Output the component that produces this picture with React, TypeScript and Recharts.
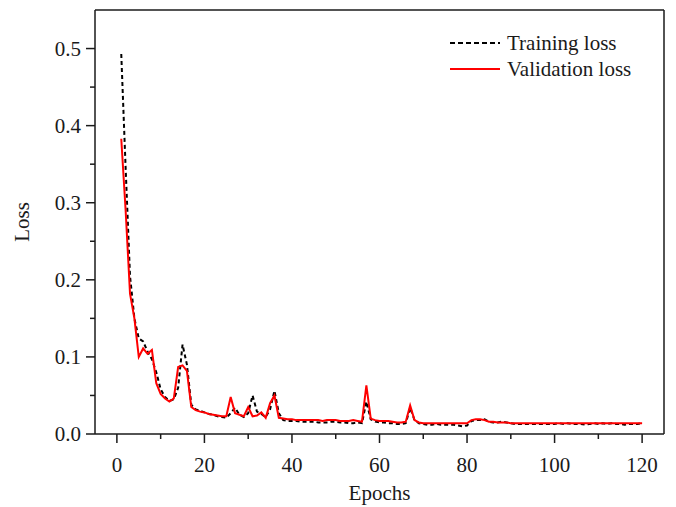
import React from "react";
import { LineChart, Line, XAxis, YAxis } from "recharts";

const epochs: number[] = Array.from({ length: 120 }, (_, i) => i + 1);

const trainingLoss: number[] = [
  0.493, 0.345, 0.205, 0.15, 0.124, 0.12, 0.107, 0.097, 0.08, 0.058,
  0.048, 0.043, 0.045, 0.06, 0.116, 0.09, 0.038, 0.032, 0.03, 0.028,
  0.026, 0.025, 0.023, 0.022, 0.021, 0.027, 0.034, 0.025, 0.022, 0.027,
  0.05, 0.029, 0.026, 0.022, 0.032, 0.056, 0.027, 0.018, 0.017, 0.017,
  0.017, 0.016, 0.016, 0.016, 0.016, 0.015, 0.015, 0.015, 0.016, 0.016,
  0.015, 0.015, 0.014, 0.014, 0.015, 0.014, 0.042, 0.019, 0.016, 0.015,
  0.015, 0.014, 0.014, 0.013, 0.013, 0.014, 0.034, 0.018, 0.014, 0.013,
  0.012, 0.012, 0.013, 0.012, 0.012, 0.012, 0.012, 0.011, 0.01, 0.011,
  0.017, 0.018, 0.018, 0.019, 0.016, 0.015, 0.015, 0.016, 0.015, 0.014,
  0.013, 0.013, 0.013, 0.013, 0.013, 0.013, 0.013, 0.013, 0.013, 0.013,
  0.014, 0.013, 0.014, 0.013, 0.013, 0.013, 0.012, 0.013, 0.014, 0.013,
  0.014, 0.013, 0.014, 0.013, 0.013, 0.012, 0.013, 0.013, 0.013, 0.014,
];

const validationLoss: number[] = [
  0.383, 0.29, 0.182, 0.15, 0.1, 0.111, 0.104, 0.109, 0.066, 0.052,
  0.046, 0.042, 0.046, 0.087, 0.089, 0.082, 0.035, 0.031, 0.029, 0.028,
  0.026, 0.025, 0.024, 0.023, 0.023, 0.048, 0.027, 0.025, 0.023, 0.035,
  0.023, 0.024, 0.028, 0.021, 0.04, 0.05, 0.021, 0.02, 0.019, 0.019,
  0.018, 0.018, 0.018, 0.018, 0.018, 0.018, 0.017, 0.018, 0.018, 0.018,
  0.017, 0.017, 0.017, 0.018, 0.017, 0.016, 0.063, 0.02, 0.018, 0.017,
  0.017, 0.017, 0.016, 0.015, 0.015, 0.016, 0.037, 0.018, 0.015, 0.014,
  0.014, 0.014, 0.014, 0.014, 0.014, 0.014, 0.014, 0.014, 0.014, 0.014,
  0.018, 0.019, 0.019, 0.018, 0.016, 0.016, 0.015, 0.015, 0.015, 0.014,
  0.014, 0.014, 0.014, 0.014, 0.014, 0.014, 0.014, 0.014, 0.014, 0.014,
  0.014, 0.014, 0.014, 0.014, 0.014, 0.014, 0.014, 0.014, 0.014, 0.014,
  0.014, 0.014, 0.014, 0.014, 0.014, 0.014, 0.014, 0.014, 0.014, 0.014,
];

const xTicks: number[] = [0, 10, 20, 30, 40, 50, 60, 70, 80, 90, 100, 110, 120];
const yTicks: number[] = [0, 0.05, 0.1, 0.15, 0.2, 0.25, 0.3, 0.35, 0.4, 0.45, 0.5];

const data = epochs.map((e, i) => ({
  epoch: e,
  training: trainingLoss[i],
  validation: validationLoss[i],
}));

const FONT = '"Liberation Serif", "Times New Roman", serif';
const FS = 21;
const INK = "#1a1a1a";

function XTick(props: any) {
  const { x, y, payload } = props;
  const v = payload.value as number;
  const major = v % 20 === 0;
  return (
    <g>
      <line x1={x} x2={x} y1={y} y2={y + (major ? 9 : 5)} stroke={INK} strokeWidth={1.5} />
      {major && (
        <text x={x} y={y + 38} textAnchor="middle" fontFamily={FONT} fontSize={FS} fill={INK}>
          {v}
        </text>
      )}
    </g>
  );
}

function YTick(props: any) {
  const { x, y, payload } = props;
  const v = payload.value as number;
  const major = Math.round(v * 100) % 10 === 0;
  return (
    <g>
      <line x1={x - (major ? 9 : 5)} x2={x} y1={y} y2={y} stroke={INK} strokeWidth={1.5} />
      {major && (
        <text x={x - 14} y={y} dy="0.35em" textAnchor="end" fontFamily={FONT} fontSize={FS} fill={INK}>
          {v.toFixed(1)}
        </text>
      )}
    </g>
  );
}

function XLabel(props: any) {
  const vb = props.viewBox;
  return (
    <text x={vb.x + vb.width / 2} y={vb.y + 66} textAnchor="middle" fontFamily={FONT} fontSize={FS} fill={INK}>
      Epochs
    </text>
  );
}

function YLabel(props: any) {
  const vb = props.viewBox;
  const cx = 29;
  const cy = vb.y + vb.height / 2;
  return (
    <text
      x={cx}
      y={cy}
      textAnchor="middle"
      transform={`rotate(-90 ${cx} ${cy})`}
      fontFamily={FONT}
      fontSize={FS}
      fill={INK}
    >
      Loss
    </text>
  );
}

function LegendBox() {
  const row = (dash: string | undefined, color: string, label: string) => (
    <div style={{ display: "flex", alignItems: "center", height: 26 }}>
      <svg width={52} height={10} style={{ marginRight: 6 }}>
        <line x1={1} x2={51} y1={5} y2={5} stroke={color} strokeWidth={2} strokeDasharray={dash} />
      </svg>
      <span style={{ fontFamily: FONT, fontSize: FS, color: INK, lineHeight: "26px", whiteSpace: "nowrap" }}>{label}</span>
    </div>
  );
  return (
    <div style={{ position: "absolute", left: 449, top: 30 }}>
      {row("5 3", "#000000", "Training loss")}
      {row(undefined, "#ff0000", "Validation loss")}
    </div>
  );
}

export default function App() {
  return (
    <div style={{ position: "absolute", left: 0, top: 0, width: 676, height: 507, background: "#fff" }}>
      <LineChart width={676} height={507} data={data} margin={{ top: 9, right: 11, bottom: 0, left: 0 }}>
        <XAxis
          dataKey="epoch"
          type="number"
          domain={[-5, 125]}
          ticks={xTicks}
          interval={0}
          height={73}
          tickSize={0}
          tickMargin={0}
          tickLine={false}
          axisLine={{ stroke: INK, strokeWidth: 1.5 }}
          tick={<XTick />}
          label={XLabel}
        />
        <XAxis
          xAxisId="top"
          orientation="top"
          dataKey="epoch"
          type="number"
          domain={[-5, 125]}
          height={1}
          tick={false}
          tickLine={false}
          axisLine={{ stroke: INK, strokeWidth: 1.5 }}
        />
        <YAxis
          type="number"
          domain={[0, 0.55]}
          ticks={yTicks}
          interval={0}
          width={95}
          tickSize={0}
          tickMargin={0}
          tickLine={false}
          axisLine={{ stroke: INK, strokeWidth: 1.5 }}
          tick={<YTick />}
          label={YLabel}
        />
        <YAxis
          yAxisId="right"
          orientation="right"
          type="number"
          domain={[0, 0.55]}
          width={1}
          tick={false}
          tickLine={false}
          axisLine={{ stroke: INK, strokeWidth: 1.5 }}
        />
        <Line
          type="linear"
          dataKey="training"
          stroke="#000000"
          strokeWidth={2}
          strokeDasharray="4 3"
          dot={false}
          isAnimationActive={false}
        />
        <Line
          type="linear"
          dataKey="validation"
          stroke="#ff0000"
          strokeWidth={2}
          dot={false}
          isAnimationActive={false}
        />
      </LineChart>
      <LegendBox />
    </div>
  );
}
